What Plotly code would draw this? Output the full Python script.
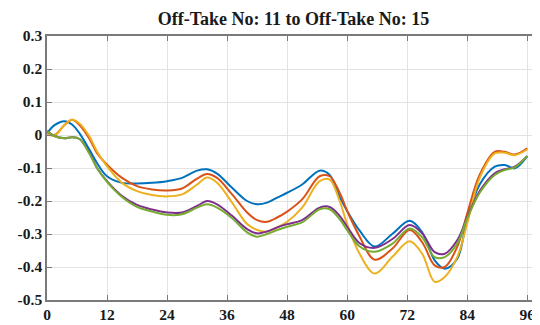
import plotly.graph_objects as go

x = [0, 1.5, 3.5, 5, 6.5, 8.5, 10, 12, 15, 18, 21, 24, 27, 30, 32, 34, 37, 40, 42, 44, 46, 48,
     51, 54.5, 56.5, 58.5, 60, 62.5, 65.5, 69, 72.5, 75, 77.5, 79.5, 82, 84, 86.5, 89.5, 91.5, 93.5, 96]

s_blue = [0.005, 0.03, 0.042, 0.032, 0.005, -0.045, -0.085, -0.125, -0.145, -0.147, -0.145, -0.14,
          -0.13, -0.108, -0.104, -0.117, -0.16, -0.2, -0.21, -0.205, -0.19, -0.175, -0.15, -0.108,
          -0.121, -0.187, -0.23, -0.29, -0.338, -0.3, -0.26, -0.295, -0.38, -0.405, -0.375, -0.253,
          -0.15, -0.096, -0.091, -0.101, -0.064]
s_orange = [0.003, 0.0, 0.03, 0.046, 0.03, -0.012, -0.055, -0.09, -0.13, -0.155, -0.165, -0.168,
            -0.162, -0.132, -0.118, -0.13, -0.18, -0.235, -0.258, -0.263, -0.25, -0.232, -0.195, -0.125,
            -0.125, -0.175, -0.23, -0.308, -0.378, -0.345, -0.288, -0.325, -0.395, -0.4, -0.339, -0.238,
            -0.12, -0.051, -0.051, -0.059, -0.04]
s_yellow = [0.003, -0.002, 0.03, 0.046, 0.035, -0.005, -0.05, -0.095, -0.145, -0.17, -0.182, -0.186,
            -0.18, -0.15, -0.129, -0.145, -0.205, -0.27, -0.288, -0.293, -0.28, -0.263, -0.22, -0.14,
            -0.135, -0.2, -0.27, -0.36, -0.42, -0.37, -0.322, -0.36, -0.445, -0.43, -0.37, -0.268,
            -0.13, -0.056, -0.054, -0.061, -0.044]
s_purple = [0.012, -0.003, -0.01, -0.007, -0.012, -0.055, -0.1, -0.14, -0.185, -0.212, -0.226, -0.235,
            -0.235, -0.215, -0.2, -0.21, -0.245, -0.285, -0.298, -0.292, -0.28, -0.27, -0.258, -0.22,
            -0.218, -0.245, -0.278, -0.328, -0.342, -0.316, -0.273, -0.298, -0.355, -0.36, -0.319, -0.25,
            -0.17, -0.116, -0.104, -0.096, -0.064]
s_green = [0.012, -0.003, -0.01, -0.007, -0.012, -0.057, -0.1, -0.142, -0.188, -0.218, -0.232, -0.242,
           -0.24, -0.22, -0.21, -0.22, -0.252, -0.295, -0.308, -0.3, -0.288, -0.278, -0.265, -0.225,
           -0.225, -0.255, -0.288, -0.338, -0.354, -0.33, -0.283, -0.31, -0.37, -0.37, -0.329, -0.253,
           -0.175, -0.121, -0.106, -0.098, -0.064]

series = [s_blue, s_orange, s_yellow, s_purple, s_green]
colors = ["#0072BD", "#D95319", "#EDB120", "#7E2F8E", "#77AC30"]

x_ticks = [0, 12, 24, 36, 48, 60, 72, 84, 96]
y_ticks = [0.3, 0.2, 0.1, 0, -0.1, -0.2, -0.3, -0.4, -0.5]
y_labels = ["0.3", "0.2", "0.1", "0", "-0.1", "-0.2", "-0.3", "-0.4", "-0.5"]
title = "Off-Take No: 11 to Off-Take No: 15"

fig = go.Figure()
for s, c in zip(series, colors):
    fig.add_trace(go.Scatter(x=x, y=s, mode="lines",
                             line=dict(color=c, width=2, shape="spline", smoothing=1),
                             showlegend=False))

font_t = "Liberation Serif, Times New Roman, serif"
axis_col = "#7a7a7a"
# the page body has an 8px default margin, so the figure is sized to fill the rest
fig.update_layout(
    width=532, height=317,
    margin=dict(l=39, r=0, t=28, b=25, autoexpand=False),
    paper_bgcolor="white", plot_bgcolor="white",
    title=dict(text="<b>" + title + "</b>", x=0.5, xref="paper", y=1, yref="container",
               yanchor="top", pad=dict(t=4),
               font=dict(family=font_t, size=18, color="#1a1a1a")),
    xaxis=dict(range=[0, 98.55], tickvals=x_ticks, ticktext=[f"<b>{v}</b>" for v in x_ticks],
               showgrid=True, gridcolor="#e3e3e3", gridwidth=1, automargin=False,
               showline=True, linecolor=axis_col, linewidth=1.5, mirror="ticks",
               ticks="inside", ticklen=5, tickcolor=axis_col, zeroline=False,
               tickfont=dict(family=font_t, size=15.5, color="#1a1a1a")),
    yaxis=dict(range=[-0.5, 0.3], tickvals=y_ticks, ticktext=[f"<b>{v}</b>" for v in y_labels],
               showgrid=True, gridcolor="#e3e3e3", gridwidth=1, automargin=False,
               showline=True, linecolor=axis_col, linewidth=1.5,
               ticks="inside", ticklen=5, tickcolor=axis_col, zeroline=False,
               tickfont=dict(family=font_t, size=15.5, color="#1a1a1a")),
)

fig.write_html("out.html")
